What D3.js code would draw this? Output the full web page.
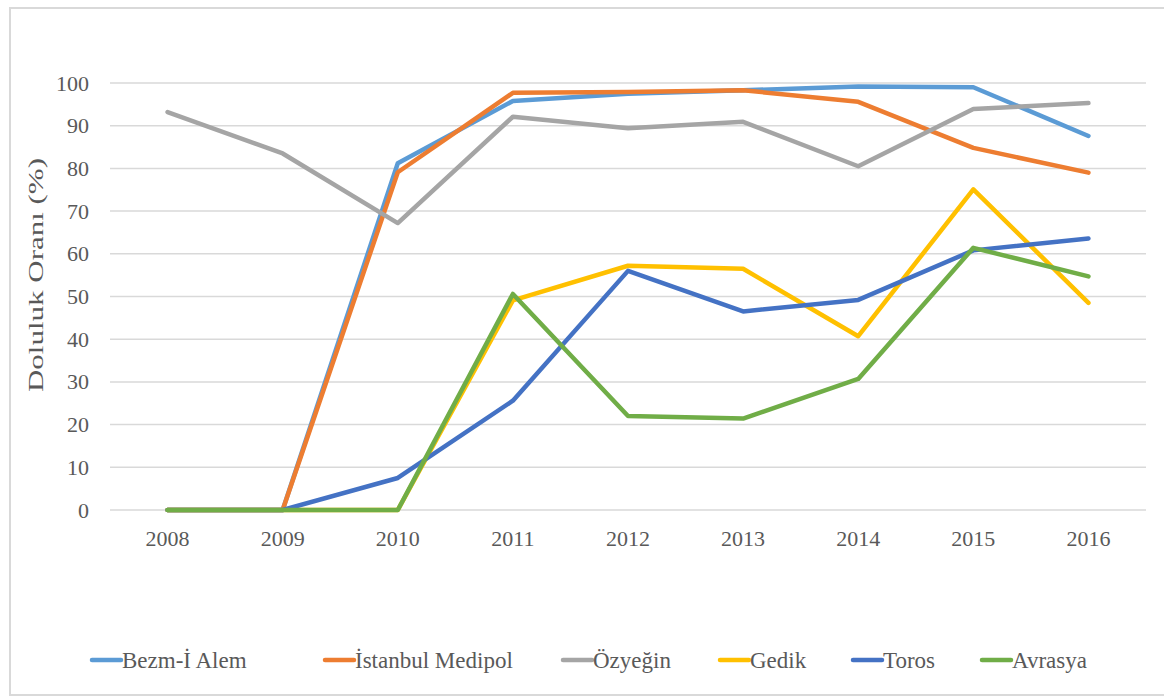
<!DOCTYPE html>
<html>
<head>
<meta charset="utf-8">
<script src="https://cdn.jsdelivr.net/npm/d3@7"></script>
<style>
    body { margin: 0; background: #fff; }
    svg { display: block; }
    svg text { font-family: 'Liberation Serif', 'DejaVu Serif', serif; fill: #595959; }
</style>
</head>
<body>
<div id="chart"></div>
<script>
    // years on the x axis
    var years = ['2008', '2009', '2010', '2011', '2012', '2013', '2014', '2015', '2016']
    var yTicks = [0, 10, 20, 30, 40, 50, 60, 70, 80, 90, 100]

    // occupancy rates (%)
    var bezmAlem = [0, 0, 81.2, 95.8, 97.5, 98.3, 99.2, 99.0, 87.6]
    var medipol = [0, 0, 79.1, 97.7, 97.9, 98.3, 95.6, 84.8, 79.0]
    var ozyegin = [93.2, 83.5, 67.2, 92.1, 89.4, 90.9, 80.5, 93.9, 95.3]
    var gedik = [0, 0, 0, 49.1, 57.2, 56.5, 40.7, 75.1, 48.5]
    var toros = [0, 0, 7.5, 25.6, 56.0, 46.5, 49.2, 60.8, 63.6]
    var avrasya = [0, 0, 0, 50.6, 22.0, 21.4, 30.7, 61.4, 54.7]

    var seriesNames = ['Bezm-İ Alem', 'İstanbul Medipol', 'Özyeğin', 'Gedik', 'Toros', 'Avrasya']
    var seriesValues = [bezmAlem, medipol, ozyegin, gedik, toros, avrasya]
    var colors = ['#5B9BD5', '#ED7D31', '#A5A5A5', '#FFC000', '#4472C4', '#70AD47']

    var width = 1164
    var height = 696

    var svg = d3.select('#chart')
        .append('svg')
        .attr('width', width)
        .attr('height', height)

    // chart frame
    svg.append('path')
        .attr('d', 'M1170,8 H10 V695 H1170')
        .attr('fill', 'none')
        .attr('stroke', '#d9d9d9')
        .attr('stroke-width', 2)

    var x = d3.scaleBand()
        .domain(years)
        .range([110, 1146])

    var y = d3.scaleLinear()
        .domain([0, 100])
        .range([510, 83])

    // gridlines
    svg.append('g')
        .selectAll('line')
        .data(yTicks)
        .enter()
        .append('line')
        .attr('x1', 110)
        .attr('x2', 1146)
        .attr('y1', function (d) { return y(d) })
        .attr('y2', function (d) { return y(d) })
        .attr('stroke', '#d9d9d9')
        .attr('stroke-width', 1.5)

    // y axis labels
    var yAxis = svg.append('g')
        .attr('transform', 'translate(110,0)')
        .call(d3.axisLeft(y).tickValues(yTicks).tickSize(0).tickPadding(21))
    yAxis.select('.domain').remove()
    yAxis.attr('font-family', null).attr('font-size', null)
    yAxis.selectAll('text')
        .style('font-size', '22px')
        .attr('fill', null)

    // x axis labels
    var xAxis = svg.append('g')
        .attr('transform', 'translate(0,510)')
        .call(d3.axisBottom(x).tickSize(0).tickPadding(20))
    xAxis.select('.domain').remove()
    xAxis.attr('font-family', null).attr('font-size', null)
    xAxis.selectAll('text')
        .style('font-size', '22px')
        .attr('fill', null)

    // axis title (stretched, the original is drawn long)
    svg.append('text')
        .attr('transform', 'translate(43,275) rotate(-90)')
        .attr('text-anchor', 'middle')
        .attr('textLength', 234)
        .attr('lengthAdjust', 'spacingAndGlyphs')
        .style('font-size', '22px')
        .text('Doluluk Oranı (%)')

    var line = d3.line()
        .x(function (d, i) { return x(years[i]) + x.bandwidth() / 2 })
        .y(function (d) { return y(d) })

    svg.append('g')
        .selectAll('path')
        .data(seriesValues)
        .enter()
        .append('path')
        .attr('d', line)
        .attr('fill', 'none')
        .attr('stroke', function (d, i) { return colors[i] })
        .attr('stroke-width', 4.5)
        .attr('stroke-linecap', 'round')
        .attr('stroke-linejoin', 'round')

    // legend
    var legendX = [92, 325, 563, 720, 853, 982]
    var legend = svg.append('g')
        .selectAll('g')
        .data(seriesNames)
        .enter()
        .append('g')
        .attr('transform', function (d, i) { return 'translate(' + legendX[i] + ',660)' })

    legend.append('line')
        .attr('x1', 0)
        .attr('x2', 29)
        .attr('stroke', function (d, i) { return colors[i] })
        .attr('stroke-width', 4.5)
        .attr('stroke-linecap', 'round')

    legend.append('text')
        .attr('x', 30)
        .attr('dy', '0.35em')
        .style('font-size', '23px')
        .text(function (d) { return d })
</script>
</body>
</html>
